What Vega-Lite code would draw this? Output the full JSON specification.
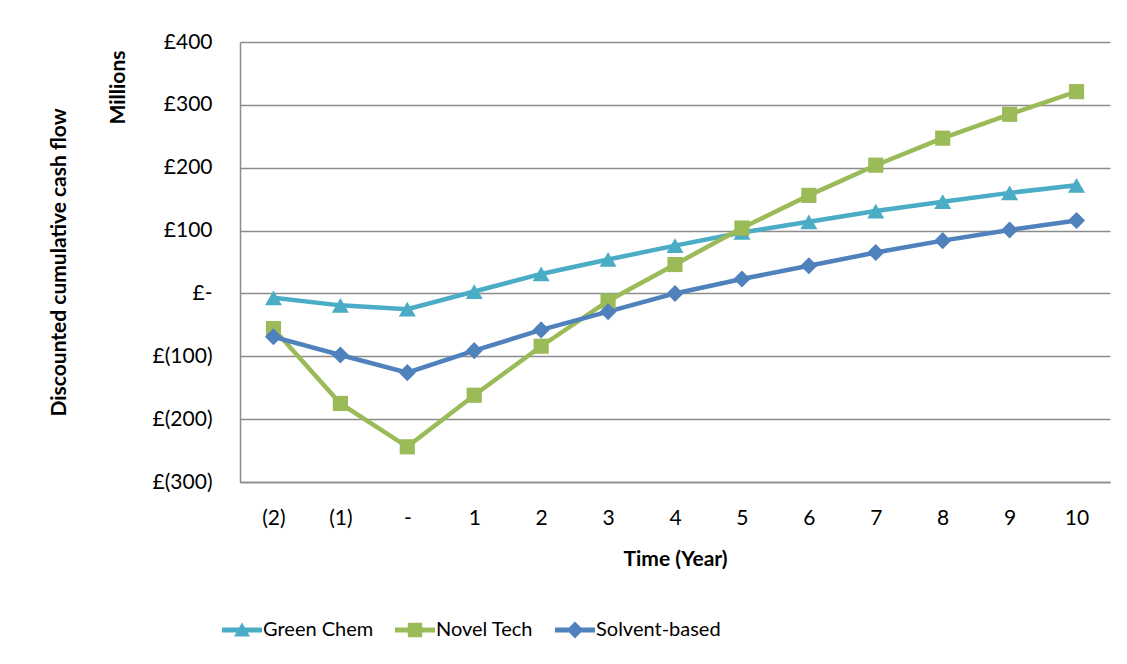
{
  "$schema": "https://vega.github.io/schema/vega-lite/v6.json",
  "width": 870,
  "height": 440,
  "autosize": {"type": "none"},
  "padding": {"left": 240, "top": 42, "right": 17, "bottom": 182},
  "background": "white",
  "config": {
    "font": "Lato",
    "view": {"stroke": null},
    "axis": {
      "labelFont": "Lato",
      "titleFont": "Lato",
      "labelFontSize": 21,
      "titleFontSize": 21,
      "labelColor": "#000000",
      "titleColor": "#000000",
      "titleFontWeight": "bold",
      "domainColor": "#8c8c8c",
      "domainWidth": 1.5,
      "gridColor": "#8c8c8c",
      "gridWidth": 1.5,
      "gridOpacity": 1,
      "ticks": false
    },
    "legend": {"labelFont": "Lato", "labelFontSize": 20, "labelColor": "#000000"}
  },
  "data": {
    "values": [
      {"time": "(2)", "series": "Green Chem", "value": -7},
      {"time": "(1)", "series": "Green Chem", "value": -19},
      {"time": "-", "series": "Green Chem", "value": -25},
      {"time": "1", "series": "Green Chem", "value": 3},
      {"time": "2", "series": "Green Chem", "value": 31},
      {"time": "3", "series": "Green Chem", "value": 54},
      {"time": "4", "series": "Green Chem", "value": 76},
      {"time": "5", "series": "Green Chem", "value": 97},
      {"time": "6", "series": "Green Chem", "value": 114},
      {"time": "7", "series": "Green Chem", "value": 131},
      {"time": "8", "series": "Green Chem", "value": 146},
      {"time": "9", "series": "Green Chem", "value": 160},
      {"time": "10", "series": "Green Chem", "value": 172},
      {"time": "(2)", "series": "Novel Tech", "value": -56},
      {"time": "(1)", "series": "Novel Tech", "value": -175},
      {"time": "-", "series": "Novel Tech", "value": -244},
      {"time": "1", "series": "Novel Tech", "value": -162},
      {"time": "2", "series": "Novel Tech", "value": -84},
      {"time": "3", "series": "Novel Tech", "value": -12},
      {"time": "4", "series": "Novel Tech", "value": 46},
      {"time": "5", "series": "Novel Tech", "value": 104},
      {"time": "6", "series": "Novel Tech", "value": 156},
      {"time": "7", "series": "Novel Tech", "value": 204},
      {"time": "8", "series": "Novel Tech", "value": 247},
      {"time": "9", "series": "Novel Tech", "value": 285},
      {"time": "10", "series": "Novel Tech", "value": 321},
      {"time": "(2)", "series": "Solvent-based", "value": -69},
      {"time": "(1)", "series": "Solvent-based", "value": -98},
      {"time": "-", "series": "Solvent-based", "value": -126},
      {"time": "1", "series": "Solvent-based", "value": -91},
      {"time": "2", "series": "Solvent-based", "value": -58},
      {"time": "3", "series": "Solvent-based", "value": -29},
      {"time": "4", "series": "Solvent-based", "value": 0},
      {"time": "5", "series": "Solvent-based", "value": 23},
      {"time": "6", "series": "Solvent-based", "value": 44},
      {"time": "7", "series": "Solvent-based", "value": 65},
      {"time": "8", "series": "Solvent-based", "value": 84},
      {"time": "9", "series": "Solvent-based", "value": 101},
      {"time": "10", "series": "Solvent-based", "value": 116}
    ]
  },
  "encoding": {
    "x": {
      "field": "time",
      "type": "ordinal",
      "sort": ["(2)", "(1)", "-", "1", "2", "3", "4", "5", "6", "7", "8", "9", "10"],
      "scale": {"type": "point", "padding": 0.5},
      "axis": {
        "title": "Time (Year)",
        "labelAngle": 0,
        "labelPadding": 25,
        "titlePadding": 20,
        "grid": false
      }
    }
  },
  "layer": [
    {
      "mark": {"type": "line", "strokeWidth": 4.5},
      "encoding": {
        "y": {
          "field": "value",
          "type": "quantitative",
          "scale": {"domain": [-300, 400], "nice": false},
          "axis": {
            "title": "Discounted cumulative cash flow",
            "values": [-300, -200, -100, 0, 100, 200, 300, 400],
            "labelExpr": "datum.value == 0 ? '£-' : (datum.value < 0 ? '£(' + (-datum.value) + ')' : '£' + datum.value)",
            "labelPadding": 28,
            "grid": true,
            "titleX": -181,
            "titleY": 220,
            "titleAngle": -90,
            "titleAlign": "center",
            "titleBaseline": "middle"
          }
        },
        "color": {
          "field": "series",
          "type": "nominal",
          "scale": {
            "domain": ["Green Chem", "Novel Tech", "Solvent-based"],
            "range": ["#4BACC6", "#9BBB59", "#4F81BD"]
          },
          "legend": {
            "title": null,
            "orient": "none",
            "direction": "horizontal",
            "legendX": -8,
            "legendY": 578,
            "symbolSize": 256,
            "symbolStrokeWidth": 0,
            "labelOffset": 11,
            "columnPadding": 21,
            "encode": {
              "symbols": {
                "update": {
                  "shape": {"signal": "datum.value === 'Green Chem' ? 'M-2.5,-0.3 L2.5,-0.3 L2.5,0.3 L-2.5,0.3 Z M0,-0.95 L1,0.8 L-1,0.8 Z' : datum.value === 'Novel Tech' ? 'M-2.5,-0.3 L2.5,-0.3 L2.5,0.3 L-2.5,0.3 Z M-0.9,-0.9 L0.9,-0.9 L0.9,0.9 L-0.9,0.9 Z' : 'M-2.5,-0.3 L2.5,-0.3 L2.5,0.3 L-2.5,0.3 Z M0,-1.05 L1.05,0 L0,1.05 L-1.05,0 Z'"},
                  "fill": {"signal": "datum.value === 'Green Chem' ? '#4BACC6' : datum.value === 'Novel Tech' ? '#9BBB59' : '#4F81BD'"},
                  "fillOpacity": {"value": 1},
                  "strokeWidth": {"value": 0},
                  "opacity": {"value": 1}
                }
              }
            }
          }
        }
      }
    },
    {
      "transform": [{"filter": "datum.series === 'Green Chem'"}],
      "mark": {"type": "point", "shape": "triangle-up", "filled": true, "opacity": 1, "size": 290, "color": "#4BACC6"},
      "encoding": {
        "y": {
          "field": "value",
          "type": "quantitative",
          "scale": {"domain": [-300, 400], "nice": false},
          "axis": {
            "orient": "left",
            "title": "Millions",
            "labels": false,
            "ticks": false,
            "domain": false,
            "grid": false,
            "titleX": -122,
            "titleY": 8,
            "titleAngle": -90,
            "titleAlign": "right",
            "titleBaseline": "middle"
          }
        }
      }
    },
    {
      "transform": [{"filter": "datum.series === 'Novel Tech'"}],
      "mark": {"type": "point", "shape": "square", "filled": true, "opacity": 1, "size": 230, "color": "#9BBB59"},
      "encoding": {
        "y": {"field": "value", "type": "quantitative", "scale": {"domain": [-300, 400], "nice": false}, "axis": null}
      }
    },
    {
      "transform": [{"filter": "datum.series === 'Solvent-based'"}],
      "mark": {"type": "point", "shape": "diamond", "filled": true, "opacity": 1, "size": 290, "color": "#4F81BD"},
      "encoding": {
        "y": {"field": "value", "type": "quantitative", "scale": {"domain": [-300, 400], "nice": false}, "axis": null}
      }
    }
  ],
  "resolve": {"axis": {"y": "independent"}}
}
